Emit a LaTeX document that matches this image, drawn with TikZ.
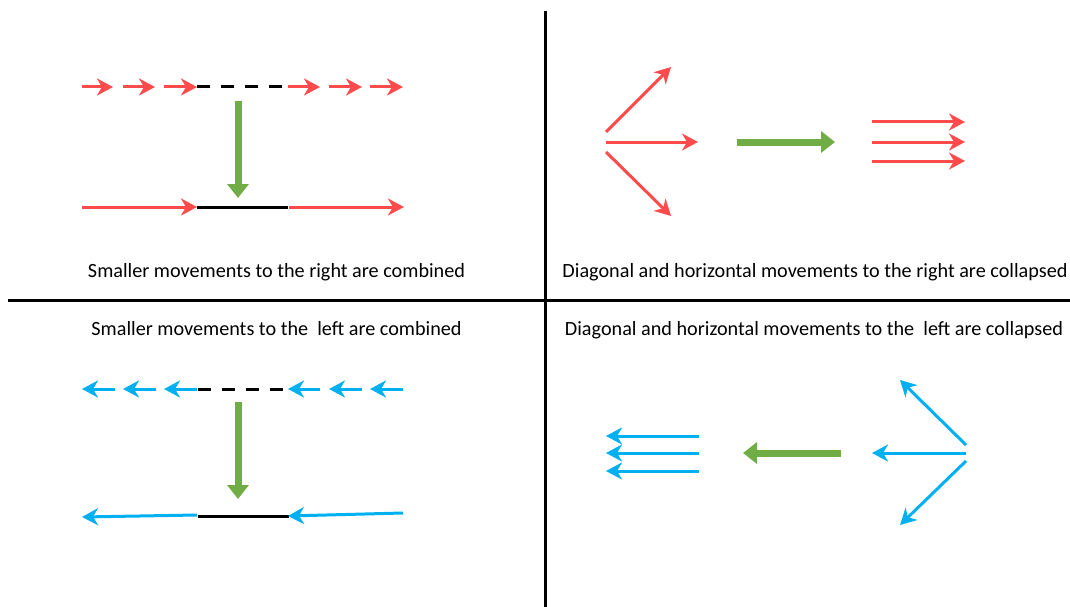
\documentclass[tikz,border=0pt]{standalone}
\usepackage{fontspec}
\setmainfont{Carlito}
\usetikzlibrary{arrows.meta}
\definecolor{movred}{HTML}{FF4B4B}
\definecolor{movblue}{HTML}{00B0F0}
\definecolor{movgreen}{HTML}{70AD47}
\tikzset{
  redmove/.style={draw=movred, line width=3pt, -{Stealth[length=16pt,width=17pt,inset=5pt]}},
  bluemove/.style={draw=movblue, line width=3pt, -{Stealth[length=16pt,width=17pt,inset=5pt]}},
  bigarrow/.style={draw=movgreen, line width=7pt, -{Triangle[length=14pt,width=21pt]}},
  joinline/.style={draw=black, line width=3pt},
  gapline/.style={draw=black, line width=3pt, dash pattern=on 13pt off 11pt},
  divider/.style={draw=black, line width=3pt},
  caption/.style={font=\fontsize{20.2}{24}\selectfont, anchor=center, inner sep=0pt}
}
\begin{document}
\begin{tikzpicture}[x=1pt, y=-1pt]
\useasboundingbox (0,0) rectangle (1070,607);

% quadrant dividers
\draw[divider] (545.5,11) -- (545.5,607);
\draw[divider] (8,300) -- (1070,300);

% ---- top left: small rightward moves merged ----
\draw[redmove] (82,87) -- (113,87);
\draw[redmove] (123,87) -- (155,87);
\draw[redmove] (164,87) -- (197,87);
\draw[gapline] (197,87) -- (283,87);
\draw[redmove] (288,87) -- (320,87);
\draw[redmove] (329,87) -- (362,87);
\draw[redmove] (370,87) -- (403,87);
\draw[bigarrow] (238,101) -- (238,198);
\draw[redmove] (82,207) -- (197,207);
\draw[joinline] (197,207) -- (288,207);
\draw[redmove] (289,207) -- (404,207);
\node[caption] (capTL) at (276.5,272) {Smaller movements to the right are combined};

% ---- top right: rightward fan collapsed ----
\coordinate (fanR) at (606,142);
\draw[redmove] (606,132) -- (671,67);
\draw[redmove] (fanR) -- (698,142);
\draw[redmove] (606,152) -- (671,216);
\draw[bigarrow] (737,142) -- (835,142);
\draw[redmove] (872,122) -- (965,122);
\draw[redmove] (872,142) -- (965,142);
\draw[redmove] (872,161) -- (965,161);
\node[caption] (capTR) at (815,272) {Diagonal and horizontal movements to the right are collapsed};

% ---- bottom left: small leftward moves merged ----
\node[caption] (capBL) at (276.5,329) {Smaller movements to the \ left are combined};
\draw[bluemove] (115,389) -- (82,389);
\draw[bluemove] (156,389) -- (123,389);
\draw[bluemove] (197,389) -- (164,389);
\draw[gapline] (198,389) -- (285,389);
\draw[bluemove] (320,389) -- (288,389);
\draw[bluemove] (362,389) -- (329,389);
\draw[bluemove] (403,389) -- (370,389);
\draw[bigarrow] (238,402) -- (238,499);
\draw[bluemove] (197,515) -- (82,517);
\draw[joinline] (198,516) -- (289,516);
\draw[bluemove] (403,513) -- (288,516);

% ---- bottom right: leftward fan collapsed ----
\node[caption] (capBR) at (814,330) {Diagonal and horizontal movements to the \ left are collapsed};
\draw[bluemove] (699,436) -- (606,436);
\draw[bluemove] (699,453) -- (606,453);
\draw[bluemove] (699,471) -- (606,471);
\draw[bigarrow] (841,453) -- (743,453);
\coordinate (fanL) at (966,453);
\draw[bluemove] (966,445) -- (900,380);
\draw[bluemove] (fanL) -- (872,453);
\draw[bluemove] (966,461) -- (900,525);
\end{tikzpicture}
\end{document}
